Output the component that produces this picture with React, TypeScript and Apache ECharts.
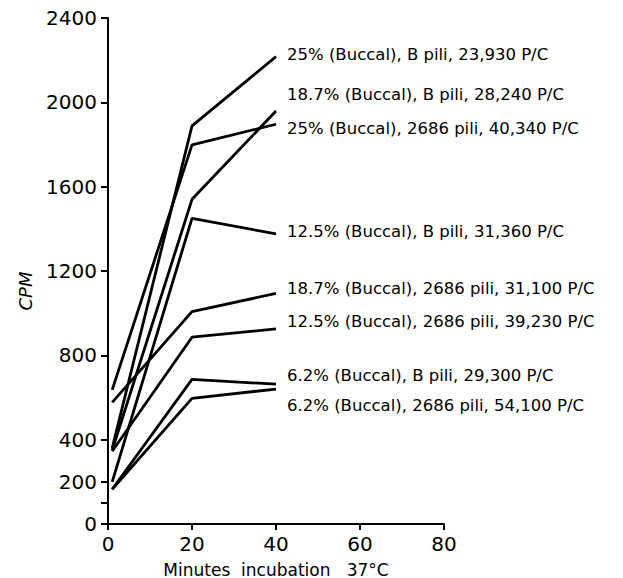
import React, { useEffect, useRef } from "react";
import * as echarts from "echarts";

const minutes = [1, 20, 40];
const seriesNames = [
  "25% (Buccal), B pili, 23,930 P/C",
  "18.7% (Buccal), B pili, 28,240 P/C",
  "25% (Buccal), 2686 pili, 40,340 P/C",
  "12.5% (Buccal), B pili, 31,360 P/C",
  "18.7% (Buccal), 2686 pili, 31,100 P/C",
  "12.5% (Buccal), 2686 pili, 39,230 P/C",
  "6.2% (Buccal), B pili, 29,300 P/C",
  "6.2% (Buccal), 2686 pili, 54,100 P/C",
];
const cpmA = [360, 1888, 2217];
const cpmB = [350, 1540, 1959];
const cpmC = [636, 1798, 1896];
const cpmD = [200, 1450, 1376];
const cpmE = [577, 1007, 1094];
const cpmF = [345, 886, 925];
const cpmG = [165, 686, 663];
const cpmH = [165, 596, 640];
const seriesValues = [cpmA, cpmB, cpmC, cpmD, cpmE, cpmF, cpmG, cpmH];

const yTickValues = [0, 100, 200, 400, 800, 1200, 1600, 2000, 2400];
const yLabelValues = [0, 200, 400, 800, 1200, 1600, 2000, 2400];
const xTickValues = [0, 20, 40, 60, 80];

// label vertical nudges (layout only)
const labelNudge = [-2, -16, 4, -2, -5, -7, -9, 16];

const FONT = "DejaVu Sans";

export default function App() {
  const ref = useRef<HTMLDivElement>(null);
  useEffect(() => {
    if (!ref.current) return;
    const chart = echarts.init(ref.current, undefined, { renderer: "svg" });
    chart.setOption({
      animation: false,
      backgroundColor: "#ffffff",
      grid: { left: 108, top: 18, right: 179, bottom: 54, containLabel: false, outerBoundsMode: "none" },
      xAxis: {
        type: "value",
        min: 0,
        max: 80,
        interval: 20,
        name: "Minutes  incubation   37°C",
        nameLocation: "middle",
        nameGap: 37,
        nameTextStyle: { fontFamily: FONT, fontSize: 17, color: "#000" },
        splitLine: { show: false },
        axisLine: { show: true, onZero: false, lineStyle: { color: "#000", width: 2 } },
        axisTick: { show: true, length: 6, lineStyle: { color: "#000", width: 2 }, customValues: xTickValues },
        axisLabel: { color: "#000", fontFamily: FONT, fontSize: 20, margin: 10, customValues: xTickValues, formatter: (v: number) => String(v) },
      },
      yAxis: {
        type: "value",
        min: 0,
        max: 2400,
        name: "CPM",
        nameLocation: "middle",
        nameGap: 74,
        nameRotate: 90,
        nameTextStyle: { fontFamily: FONT, fontSize: 18, fontStyle: "italic", color: "#000", padding: [0, 0, 0, -40] },
        splitLine: { show: false },
        axisLine: { show: true, lineStyle: { color: "#000", width: 2 } },
        axisTick: { show: true, length: 7, lineStyle: { color: "#000", width: 2 }, customValues: yTickValues },
        axisLabel: { color: "#000", fontFamily: FONT, fontSize: 20, margin: 11, customValues: yLabelValues, formatter: (v: number) => String(v) },
      },
      series: seriesValues.map((vals, i) => ({
        type: "line",
        name: seriesNames[i],
        data: vals.map((v, j) => [minutes[j], v]),
        symbol: "none",
        lineStyle: { color: "#000", width: 2.8 },
        endLabel: {
          show: true,
          formatter: seriesNames[i],
          position: "right",
          distance: 11,
          offset: [0, labelNudge[i]],
          color: "#000",
          fontFamily: FONT,
          fontSize: 16.5,
        },
      })),
    });
    return () => chart.dispose();
  }, []);
  return (
    <div
      ref={ref}
      style={{ position: "fixed", left: 0, top: 0, width: 623, height: 578 }}
    />
  );
}
